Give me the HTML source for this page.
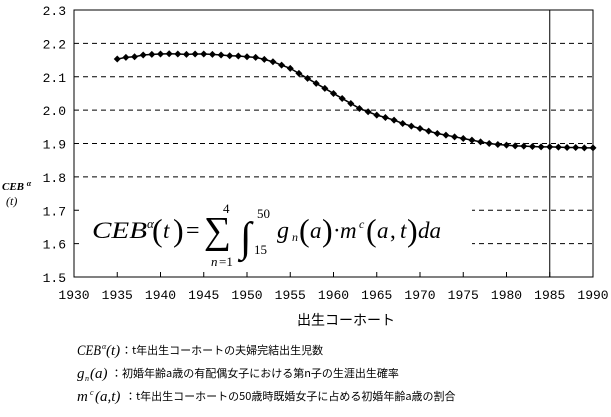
<!DOCTYPE html><html><head><meta charset="utf-8"><style>
body{margin:0;background:#fff;width:611px;height:412px;overflow:hidden;font-family:"Liberation Sans","Noto Sans CJK JP",sans-serif}
svg text{font-family:"Liberation Mono","Noto Sans CJK JP",monospace}
.m{font-family:"Liberation Serif","Noto Serif CJK SC",serif;font-style:italic}
.r{font-family:"Liberation Serif",serif}
</style></head><body>
<svg id="s" width="611" height="412" xmlns="http://www.w3.org/2000/svg"></svg>
<script>
const s=document.getElementById('s');let h='';
const L=74,R=593,B=277,T=10;
const X=y=>L+(y-1930)*(R-L)/60, Y=v=>B-(v-1.5)*(B-T)/0.8;
for(let i=1;i<=7;i++){const y=Y(1.5+i*0.1);h+=`<line x1="${L}" x2="${R}" y1="${y}" y2="${y}" stroke="#000" stroke-dasharray="5,4"/>`;}
for(let i=0;i<=8;i++){h+=`<text x="${L-8}" y="${Y(1.5+i*0.1)+5}" font-size="13" text-anchor="end">${(1.5+i*0.1).toFixed(1)}</text>`;}
for(let i=0;i<=12;i++){const x=X(1930+5*i);h+=`<line x1="${x}" x2="${x}" y1="${B}" y2="${B-5}" stroke="#000"/><text x="${x}" y="${B+22}" font-size="13" text-anchor="middle">${1930+5*i}</text>`;}
h+=`<rect x="82" y="200" width="390" height="70" fill="#fff"/>`;
h+=`<rect x="${L}" y="${T}" width="${R-L}" height="${B-T}" fill="none" stroke="#000"/>`;
h+=`<line x1="${X(1985)}" x2="${X(1985)}" y1="${T}" y2="${B}" stroke="#000"/>`;
const d=[2.153,2.158,2.16,2.165,2.167,2.168,2.169,2.168,2.167,2.168,2.168,2.167,2.165,2.163,2.162,2.16,2.158,2.152,2.145,2.135,2.125,2.11,2.095,2.08,2.065,2.05,2.035,2.02,2.005,1.995,1.985,1.978,1.97,1.96,1.952,1.945,1.937,1.93,1.925,1.92,1.915,1.91,1.905,1.9,1.897,1.895,1.893,1.892,1.891,1.89,1.89,1.889,1.888,1.888,1.887,1.887];
let p='';d.forEach((v,i)=>{p+=(i?'L':'M')+X(1935+i)+','+Y(v)});
h+=`<path d="${p}" fill="none" stroke="#000" stroke-width="1.5"/>`;
d.forEach((v,i)=>{const x=X(1935+i),y=Y(v);h+=`<path d="M${x-3.5},${y}L${x},${y-3.5}L${x+3.5},${y}L${x},${y+3.5}Z"/>`});
h+=`<text x="346" y="325" font-size="14" text-anchor="middle">出生コーホート</text>`;
h+=`<text x="2" y="190" font-size="11" class="m" font-weight="bold">CEB <tspan font-size="8" dy="-4">α</tspan></text><text x="6" y="205" font-size="12" class="m">(t)</text>`;
const bl=238;
const t=(x,y,sz,str,cls='m',extra='')=>{h+=`<text x="${x}" y="${y}" font-size="${sz}" class="${cls}" ${extra}>${str}</text>`};
t(92,bl,23,'CEB','m','textLength="55" lengthAdjust="spacingAndGlyphs"');
t(147,bl-10,13,'α');
t(152,bl+3,32,'(','r');t(163,bl,23,'t');t(173,bl+3,32,')','r');
t(186,bl,24,'=','r');
t(204,bl+5,38,'∑','r');
t(223,bl-25,13,'4','r');
t(211,bl+28,13,'n','m');t(219,bl+28,13,'=1','r');
t(240,bl+13,42,'∫','r');
t(257,bl-20,13,'50','r');t(254,bl+16,13,'15','r');
t(277,bl,24,'g');t(292,bl+3,12,'n');
t(299,bl+3,32,'(','r');t(310,bl,23,'a');t(322,bl+3,32,')','r');
t(333,bl,23,'·','r');t(340,bl,23,'m');t(359,bl-10,12,'c');
t(366,bl+3,32,'(','r');t(377,bl,23,'a','m');t(390,bl,23,',','r');t(400,bl,23,'t');t(407,bl+3,32,')','r');
t(418,bl,23,'da');
const J=(x,y,str)=>{h+=`<text x="${x}" y="${y}" font-size="11" style="font-family:'Noto Sans CJK JP',sans-serif">${str}</text>`};
t(77,355,15,'CEB','m','textLength="24" lengthAdjust="spacingAndGlyphs"');t(102,349,8,'α');t(106,355,15,'(t)');J(121,354,'：t年出生コーホートの夫婦完結出生児数');
t(77,378,15,'g');t(85,381,8,'n');t(90,378,15,'(a)');J(111,377,'：初婚年齢a歳の有配偶女子における第n子の生涯出生確率');
t(77,401,15,'m');t(90,395,8,'c');t(95,401,15,'(a,t)');J(125,400,'：t年出生コーホートの50歳時既婚女子に占める初婚年齢a歳の割合');
s.innerHTML=h;
</script></body></html>
